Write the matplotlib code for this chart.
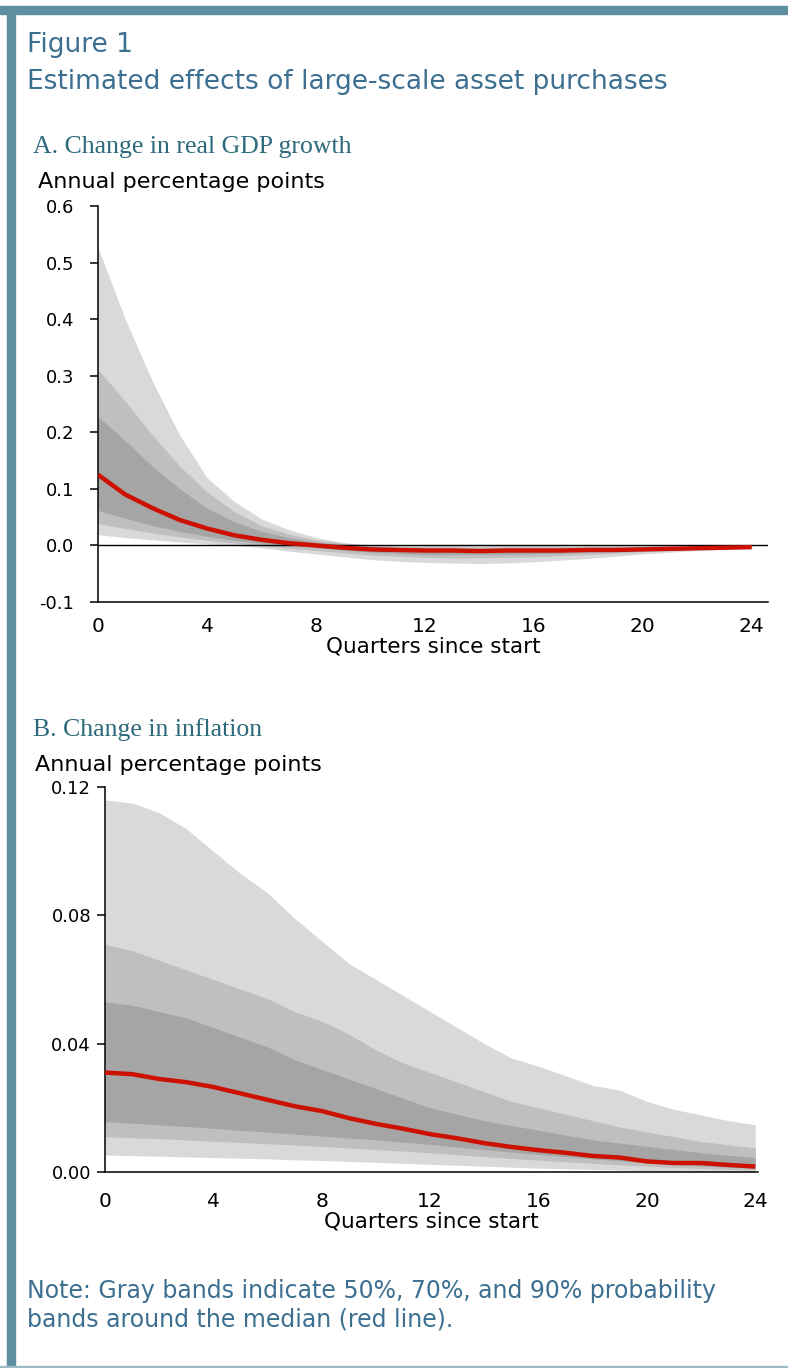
import numpy as np
import matplotlib
matplotlib.use('Agg')
import matplotlib.pyplot as plt
from matplotlib.patches import Rectangle

# quarters since start
quarters = list(range(25))

# panel A: change in real GDP growth (annual percentage points)
gdp_median = [0.125, 0.090, 0.066, 0.045, 0.030, 0.018, 0.010, 0.004, 0.000, -0.004,
              -0.007, -0.008, -0.009, -0.009, -0.010, -0.009, -0.009, -0.009, -0.008, -0.008,
              -0.007, -0.006, -0.005, -0.004, -0.003]
gdp_hi90 = [0.527, 0.400, 0.290, 0.195, 0.120, 0.078, 0.047, 0.028, 0.014, 0.005,
            0.001, 0.001, 0.002, 0.002, 0.002, 0.002, 0.002, 0.002, 0.002, 0.001,
            0.001, 0.001, 0.001, 0.000, 0.000]
gdp_hi70 = [0.311, 0.255, 0.195, 0.140, 0.095, 0.060, 0.035, 0.020, 0.010, 0.004,
            0.000, -0.002, -0.002, -0.002, -0.003, -0.002, -0.002, -0.002, -0.002, -0.002,
            -0.002, -0.001, -0.001, -0.001, -0.001]
gdp_hi50 = [0.228, 0.185, 0.140, 0.100, 0.066, 0.042, 0.025, 0.014, 0.006, 0.002,
            -0.002, -0.004, -0.005, -0.005, -0.005, -0.005, -0.005, -0.005, -0.005, -0.004,
            -0.004, -0.003, -0.003, -0.002, -0.002]
gdp_lo50 = [0.062, 0.048, 0.035, 0.025, 0.016, 0.009, 0.004, 0.000, -0.004, -0.008,
            -0.012, -0.014, -0.016, -0.016, -0.016, -0.016, -0.015, -0.014, -0.012, -0.011,
            -0.009, -0.007, -0.005, -0.004, -0.003]
gdp_lo70 = [0.039, 0.030, 0.022, 0.015, 0.009, 0.004, 0.000, -0.005, -0.009, -0.013,
            -0.017, -0.019, -0.021, -0.022, -0.022, -0.021, -0.020, -0.018, -0.016, -0.014,
            -0.011, -0.009, -0.007, -0.005, -0.004]
gdp_lo90 = [0.019, 0.014, 0.010, 0.006, 0.003, 0.000, -0.004, -0.010, -0.015, -0.020,
            -0.025, -0.028, -0.030, -0.031, -0.032, -0.031, -0.029, -0.026, -0.023, -0.019,
            -0.015, -0.012, -0.009, -0.007, -0.005]

# panel B: change in inflation (annual percentage points)
inf_median = [0.0310, 0.0305, 0.0290, 0.0280, 0.0265, 0.0245, 0.0225, 0.0205, 0.0190, 0.0168,
              0.0150, 0.0135, 0.0118, 0.0105, 0.0090, 0.0078, 0.0068, 0.0060, 0.0050, 0.0045,
              0.0033, 0.0028, 0.0028, 0.0022, 0.0017]
inf_hi90 = [0.1160, 0.1150, 0.1120, 0.1070, 0.1000, 0.0930, 0.0870, 0.0790, 0.0720, 0.0650,
            0.0600, 0.0550, 0.0500, 0.0450, 0.0400, 0.0355, 0.0330, 0.0300, 0.0270, 0.0255,
            0.0220, 0.0195, 0.0178, 0.0160, 0.0147]
inf_hi70 = [0.0710, 0.0690, 0.0660, 0.0630, 0.0600, 0.0570, 0.0540, 0.0500, 0.0470, 0.0430,
            0.0380, 0.0340, 0.0310, 0.0280, 0.0250, 0.0220, 0.0200, 0.0180, 0.0160, 0.0140,
            0.0125, 0.0110, 0.0095, 0.0085, 0.0075]
inf_hi50 = [0.0530, 0.0520, 0.0500, 0.0480, 0.0450, 0.0420, 0.0390, 0.0350, 0.0320, 0.0290,
            0.0260, 0.0230, 0.0200, 0.0180, 0.0160, 0.0145, 0.0130, 0.0115, 0.0100, 0.0090,
            0.0080, 0.0070, 0.0060, 0.0052, 0.0045]
inf_lo50 = [0.0157, 0.0152, 0.0147, 0.0142, 0.0136, 0.0130, 0.0124, 0.0118, 0.0112, 0.0106,
            0.0100, 0.0093, 0.0086, 0.0078, 0.0070, 0.0062, 0.0055, 0.0048, 0.0041, 0.0035,
            0.0029, 0.0024, 0.0019, 0.0015, 0.0012]
inf_lo70 = [0.0110, 0.0107, 0.0104, 0.0100, 0.0096, 0.0092, 0.0088, 0.0084, 0.0080, 0.0075,
            0.0070, 0.0065, 0.0060, 0.0054, 0.0048, 0.0042, 0.0037, 0.0032, 0.0027, 0.0022,
            0.0018, 0.0014, 0.0011, 0.0008, 0.0006]
inf_lo90 = [0.0053, 0.0051, 0.0049, 0.0047, 0.0045, 0.0043, 0.0041, 0.0038, 0.0036, 0.0033,
            0.0030, 0.0027, 0.0024, 0.0021, 0.0018, 0.0015, 0.0012, 0.0010, 0.0008, 0.0006,
            0.0004, 0.0003, 0.0002, 0.0001, 0.0000]

x_ticks = [0, 4, 8, 12, 16, 20, 24]
gdp_ticks = [-0.1, 0.0, 0.1, 0.2, 0.3, 0.4, 0.5, 0.6]
gdp_ticklabels = ['-0.1', '0.0', '0.1', '0.2', '0.3', '0.4', '0.5', '0.6']
inf_ticks = [0.0, 0.04, 0.08, 0.12]
inf_ticklabels = ['0.00', '0.04', '0.08', '0.12']

BAND90 = '#d9d9d9'
BAND70 = '#bfbfbf'
BAND50 = '#a5a5a5'
RED = '#cc1100'
BORDER = '#5e8fa0'
TITLE_C = '#3c6f90'
SUB_C = '#2c6a7c'
SANS = 'DejaVu Sans'

W, H = 788, 1368


def fx(px):
    return px / W


def fy(py):
    return 1 - py / H


def fan_chart(ax, q, lo90, lo70, lo50, hi50, hi70, hi90, med):
    ax.fill_between(q, lo90, hi90, color=BAND90, lw=0)
    ax.fill_between(q, lo70, hi70, color=BAND70, lw=0)
    ax.fill_between(q, lo50, hi50, color=BAND50, lw=0)
    ax.plot(q, med, color=RED, lw=3.2, solid_capstyle='butt', zorder=5)


def style_axes(ax, yticks, yticklabels, ypad, xpad):
    for s in ['top', 'right']:
        ax.spines[s].set_visible(False)
    for s in ['left', 'bottom']:
        ax.spines[s].set_linewidth(1.1)
        ax.spines[s].set_color('black')
    ax.set_yticks(yticks)
    ax.set_yticklabels(yticklabels, fontsize=13, family=SANS)
    ax.set_xticks(x_ticks)
    ax.set_xticklabels([str(t) for t in x_ticks], fontsize=14.5, family=SANS)
    ax.tick_params(axis='y', direction='out', length=6, width=1.1, pad=ypad)
    ax.tick_params(axis='x', length=0, pad=xpad)
    ax.set_xlabel('Quarters since start', fontsize=15.5, family=SANS, labelpad=0)


fig = plt.figure(figsize=(W / 100, H / 100), dpi=100)

# frame
fig.patches.append(Rectangle((0, fy(14)), 1, 8 / H, transform=fig.transFigure,
                             color=BORDER, zorder=0))
fig.patches.append(Rectangle((fx(7), 0), 8 / W, fy(14), transform=fig.transFigure,
                             color=BORDER, zorder=0))
fig.patches.append(Rectangle((0, 0), 1, 2 / H, transform=fig.transFigure,
                             color='#9fb9c4', zorder=0))

fig.text(fx(27), fy(45), 'Figure 1', fontsize=19, color=TITLE_C, va='center',
         family=SANS)
fig.text(fx(27), fy(82), 'Estimated effects of large-scale asset purchases', fontsize=19,
         color=TITLE_C, va='center', family=SANS)

# panel A
axA = fig.add_axes([fx(98), fy(602), fx(768) - fx(98), fy(206) - fy(602)])
fan_chart(axA, quarters, gdp_lo90, gdp_lo70, gdp_lo50, gdp_hi50, gdp_hi70, gdp_hi90, gdp_median)
axA.axhline(0, color='black', lw=1.0, zorder=4)
axA.set_xlim(0, 24.6)
axA.set_ylim(-0.1, 0.6)
style_axes(axA, gdp_ticks, gdp_ticklabels, ypad=11, xpad=11)
fig.text(fx(33), fy(147), 'A. Change in real GDP growth', fontsize=18.5, color=SUB_C,
         va='center', family='Liberation Serif')
fig.text(fx(38), fy(182), 'Annual percentage points', fontsize=16, va='center',
         family=SANS)

# panel B
axB = fig.add_axes([fx(105), fy(1172), fx(758) - fx(105), fy(787) - fy(1172)])
fan_chart(axB, quarters, inf_lo90, inf_lo70, inf_lo50, inf_hi50, inf_hi70, inf_hi90, inf_median)
axB.set_xlim(0, 24.1)
axB.set_ylim(0, 0.12)
style_axes(axB, inf_ticks, inf_ticklabels, ypad=4, xpad=14.5)
fig.text(fx(33), fy(730), 'B. Change in inflation', fontsize=18.5, color=SUB_C,
         va='center', family='Liberation Serif')
fig.text(fx(35), fy(765), 'Annual percentage points', fontsize=16, va='center',
         family=SANS)

fig.text(fx(27), fy(1291), 'Note: Gray bands indicate 50%, 70%, and 90% probability',
         fontsize=17, color=TITLE_C, va='center', family=SANS)
fig.text(fx(27), fy(1320), 'bands around the median (red line).',
         fontsize=17, color=TITLE_C, va='center', family=SANS)

fig.savefig('out.png', dpi=100)
